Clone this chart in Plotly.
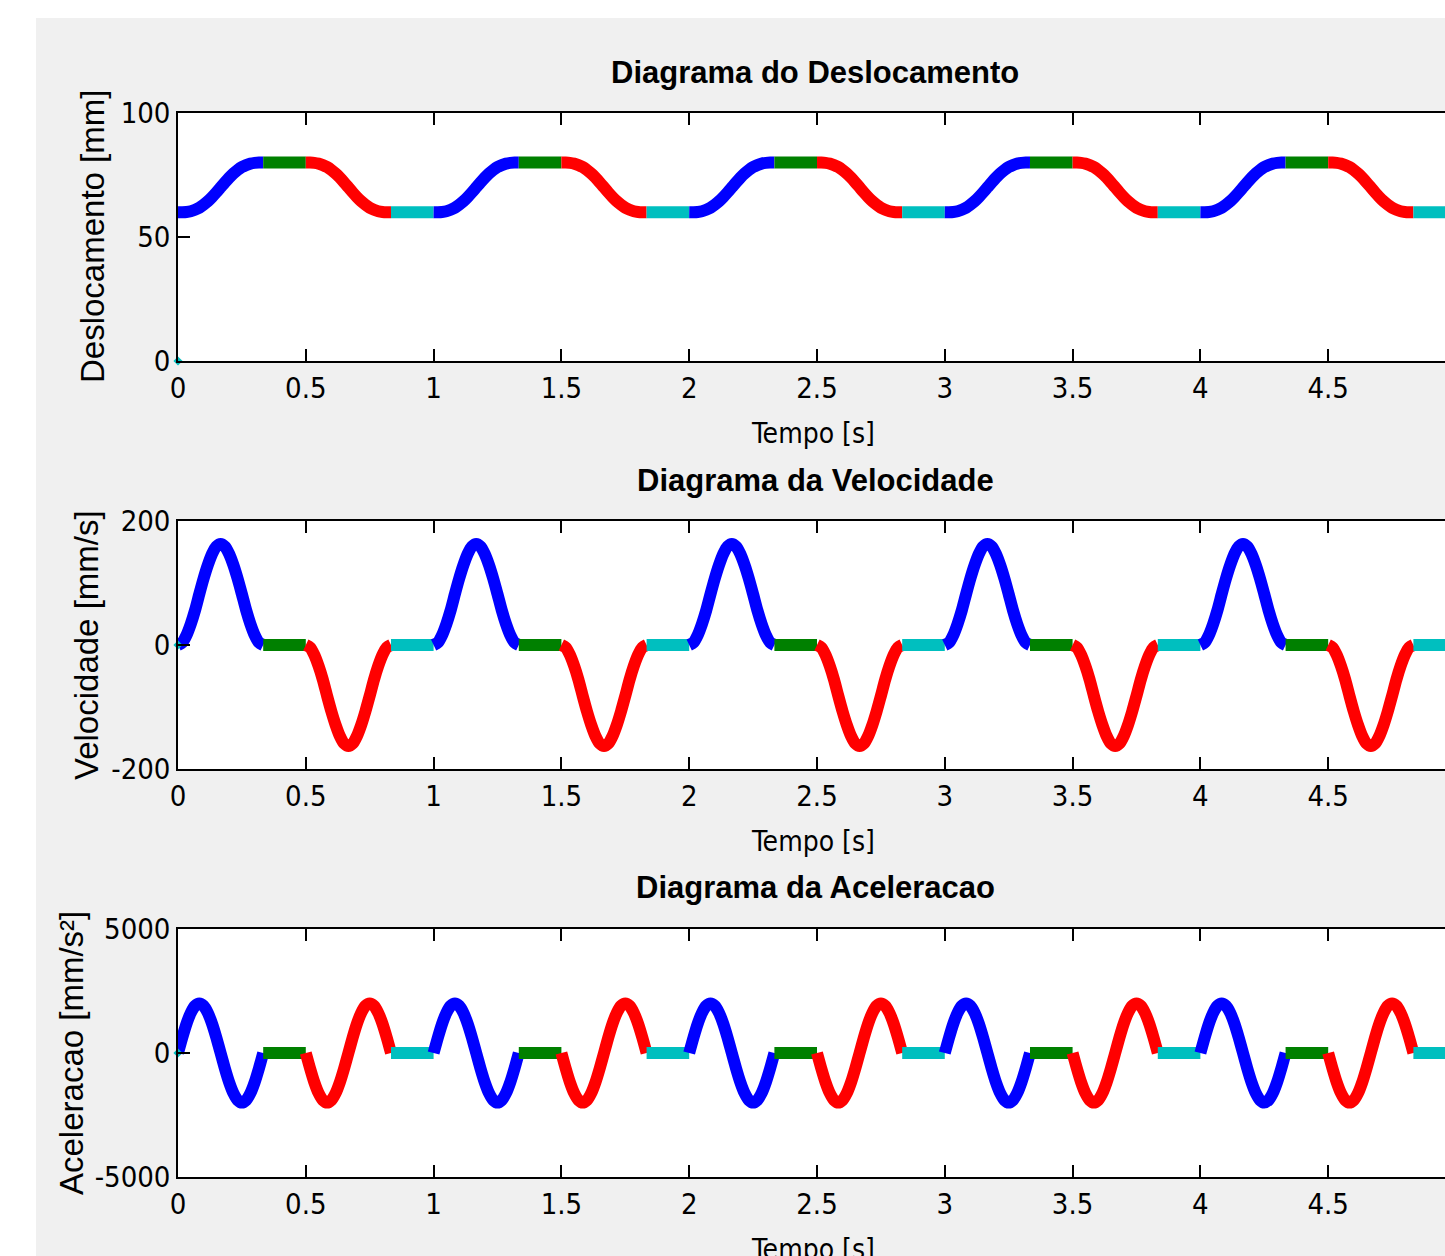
import plotly.graph_objects as go

# ---------------- data (one cycle) ----------------
CYCLE_SHIFT = [0, 1, 2, 3, 4]   # five 1-second cycles

# rise phase (blue) and return phase (red) time samples within one cycle [s]
rise_t = [0.0, 0.0167, 0.0333, 0.05, 0.0667, 0.0833, 0.1, 0.1167, 0.1333, 0.15, 0.1667,
          0.1833, 0.2, 0.2167, 0.2333, 0.25, 0.2667, 0.2833, 0.3, 0.3167, 0.3333]
return_t = [0.5, 0.5167, 0.5333, 0.55, 0.5667, 0.5833, 0.6, 0.6167, 0.6333, 0.65, 0.6667,
            0.6833, 0.7, 0.7167, 0.7333, 0.75, 0.7667, 0.7833, 0.8, 0.8167, 0.8333]
dwell_high_t = [0.3333, 0.5]
dwell_low_t = [0.8333, 1.0]

# displacement [mm]
rise_s = [60, 60, 60.1, 60.4, 61, 61.8, 63, 64.4, 66.1, 68, 70,
          72, 73.9, 75.6, 77, 78.2, 79, 79.6, 79.9, 80, 80]
return_s = [80, 80, 79.9, 79.6, 79, 78.2, 77, 75.6, 73.9, 72, 70,
            68, 66.1, 64.4, 63, 61.8, 61, 60.4, 60.1, 60, 60]
dwell_high_s = [80, 80]
dwell_low_s = [60, 60]

# velocity [mm/s]
rise_v = [0, 4, 16, 34, 56, 82, 107, 129, 147, 159, 163,
          159, 147, 129, 107, 82, 56, 34, 16, 4, 0]
return_v = [0, -4, -16, -34, -56, -82, -107, -129, -147, -159, -163,
            -159, -147, -129, -107, -82, -56, -34, -16, -4, 0]
dwell_high_v = [0, 0]
dwell_low_v = [0, 0]

# acceleration [mm/s^2]
rise_a = [0, 620, 1180, 1620, 1900, 2000, 1900, 1620, 1180, 620, 0,
          -620, -1180, -1620, -1900, -2000, -1900, -1620, -1180, -620, 0]
return_a = [0, -620, -1180, -1620, -1900, -2000, -1900, -1620, -1180, -620, 0,
            620, 1180, 1620, 1900, 2000, 1900, 1620, 1180, 620, 0]
dwell_high_a = [0, 0]
dwell_low_a = [0, 0]

# stray first sample of the low-dwell array (at the origin)
stray_t = [0]
stray_val = [0]

titles = ["Diagrama do Deslocamento", "Diagrama da Velocidade", "Diagrama da Aceleracao"]
ylabels = ["Deslocamento [mm]", "Velocidade [mm/s]", "Aceleracao [mm/s²]"]
xlabel = "Tempo [s]"
y_ranges = [[0, 100], [-200, 200], [-5000, 5000]]
y_ticks = [[0, 50, 100], [-200, 0, 200], [-5000, 0, 5000]]
x_ticks = [0, 0.5, 1, 1.5, 2, 2.5, 3, 3.5, 4, 4.5, 5]
x_ticklabels = ["0", "0.5", "1", "1.5", "2", "2.5", "3", "3.5", "4", "4.5", "5"]
X_MAX_VISIBLE = 4.957

# ---------------- styling ----------------
BLUE, GREEN, RED, CYAN = "#0000ff", "#008000", "#ff0000", "#00bfbf"
W, H = 1445, 1256
ML, MR, MT, MB = 178, 0, 113, 79
PW, PH = W - ML - MR, H - MT - MB

def px2x(px):
    return (px - ML) / PW

def py2y(py):
    return (H - MB - py) / PH

panel_px = [(113, 361), (521, 769), (929, 1177)]
title_py = [72, 480, 888]
xlab_py = [433, 841, 1249]
ylab_px = [93, 86, 71]

NARROW = "Liberation Sans Narrow, Arial Narrow, DejaVu Sans Condensed, sans-serif"
TICK_FONT = dict(family=NARROW, size=29, color="black")
LAB_FONT = dict(family="Liberation Sans, Arial, sans-serif", size=33, color="black")
XLAB_FONT = dict(family=NARROW, size=28, color="black")
TITLE_FONT = dict(family="Liberation Sans, Arial, sans-serif", size=31, color="black")

fig = go.Figure()

series = [
    (rise_s, dwell_high_s, return_s, dwell_low_s),
    (rise_v, dwell_high_v, return_v, dwell_low_v),
    (rise_a, dwell_high_a, return_a, dwell_low_a),
]

annotations = []
for p in range(3):
    xa = "x" if p == 0 else f"x{p+1}"
    ya = "y" if p == 0 else f"y{p+1}"
    rs, dh, rt, dl = series[p]
    for k in CYCLE_SHIFT:
        for tt, vv, col in [(rise_t, rs, BLUE), (dwell_high_t, dh, GREEN),
                            (return_t, rt, RED), (dwell_low_t, dl, CYAN)]:
            fig.add_trace(go.Scatter(
                x=[t + k for t in tt], y=vv, mode="lines",
                line=dict(color=col, width=12, shape="spline", smoothing=0.6),
                xaxis=xa, yaxis=ya, showlegend=False, hoverinfo="skip"))
    fig.add_trace(go.Scatter(x=stray_t, y=stray_val, mode="markers",
                             marker=dict(color=CYAN, size=7, symbol="diamond"),
                             xaxis=xa, yaxis=ya, showlegend=False, hoverinfo="skip",
                             cliponaxis=False))

    top, bot = panel_px[p]
    dom = [py2y(bot), py2y(top)]
    axis_common = dict(showline=True, linecolor="black", linewidth=1.5,
                       ticks="inside", ticklen=12, tickwidth=1.5, tickcolor="black",
                       showgrid=False, zeroline=False, tickfont=TICK_FONT)
    fig.update_layout(**{
        ("xaxis" if p == 0 else f"xaxis{p+1}"): dict(
            axis_common, range=[0, X_MAX_VISIBLE], domain=[0, 1], anchor=ya,
            tickvals=x_ticks, ticktext=x_ticklabels, mirror="ticks"),
        ("yaxis" if p == 0 else f"yaxis{p+1}"): dict(
            axis_common, range=y_ranges[p], domain=dom, anchor=xa,
            tickvals=y_ticks[p], ticktext=[str(v) for v in y_ticks[p]], mirror=False),
    })

    annotations.append(dict(text=f"<b>{titles[p]}</b>", x=px2x(815), y=py2y(title_py[p]),
                            xref="paper", yref="paper", xanchor="center", yanchor="middle",
                            showarrow=False, font=TITLE_FONT))
    annotations.append(dict(text=xlabel, x=px2x(813), y=py2y(xlab_py[p]),
                            xref="paper", yref="paper", xanchor="center", yanchor="middle",
                            showarrow=False, font=XLAB_FONT))
    annotations.append(dict(text=ylabels[p], x=px2x(ylab_px[p]), y=py2y((top + bot) / 2),
                            xref="paper", yref="paper", xanchor="center", yanchor="middle",
                            textangle=-90, showarrow=False, font=LAB_FONT))

shapes = [
    dict(type="rect", xref="paper", yref="paper", x0=px2x(0), x1=px2x(36),
         y0=py2y(H), y1=py2y(0), fillcolor="white", line=dict(width=0), layer="below"),
    dict(type="rect", xref="paper", yref="paper", x0=px2x(0), x1=px2x(W),
         y0=py2y(18), y1=py2y(0), fillcolor="white", line=dict(width=0), layer="below"),
]

fig.update_layout(width=W, height=H, margin=dict(l=ML, r=MR, t=MT, b=MB, pad=0),
                  paper_bgcolor="#f0f0f0", plot_bgcolor="white",
                  annotations=annotations, shapes=shapes, showlegend=False)

fig.write_html("out.html", config={"displayModeBar": False},
               post_script="document.body.style.margin='0';document.body.style.overflow='hidden';")
